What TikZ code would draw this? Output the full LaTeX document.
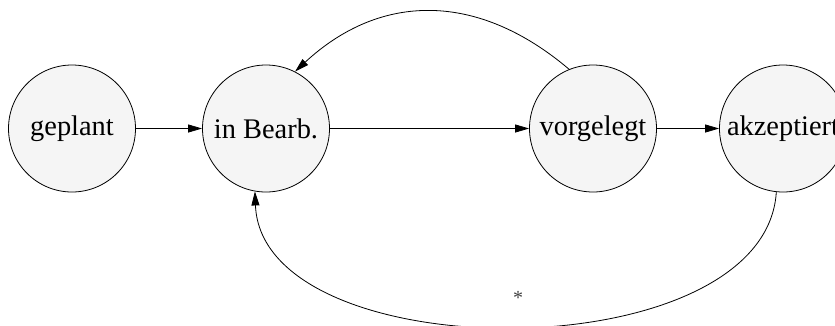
\documentclass[tikz,border=0pt]{standalone}
\usepackage{fontspec}
\setmainfont{Liberation Serif}
\usetikzlibrary{arrows.meta}
\definecolor{statefill}{RGB}{245,245,245}
\tikzset{
  state/.style={circle, draw=black, line width=0.8pt, fill=statefill,
    minimum size=127pt, inner sep=0pt, font=\fontsize{28.4}{34}\selectfont},
  edge/.style={draw=black, line width=0.8pt, -{Triangle[length=14pt,width=8pt]}},
  lab/.style={inner sep=0pt, text=black!75, font=\fontsize{20}{22}\selectfont}
}
\begin{document}
\begin{tikzpicture}[x=1pt, y=-1pt]
\useasboundingbox (0,0) rectangle (835,325);
\node[state] (g) at (72,128.5) {geplant};
\node[state] (b) at (266,128.5) {in Bearb.};
\node[state] (v) at (593,128.5) {vorgelegt};
\node[state] (a) at (783,128.5) {akzeptiert};
\draw[edge] (g) -- (b);
\draw[edge] (b) -- (v);
\draw[edge] (v) -- (a);
\draw[edge] (v.112) .. controls (478,-8) and (381,-8) .. (b.63);
\draw[edge] (a.264) .. controls (765,372) and (262,371) .. (b.260)
  node[lab, pos=0.5, xshift=4pt, yshift=29pt] (star) {*};
\end{tikzpicture}
\end{document}
